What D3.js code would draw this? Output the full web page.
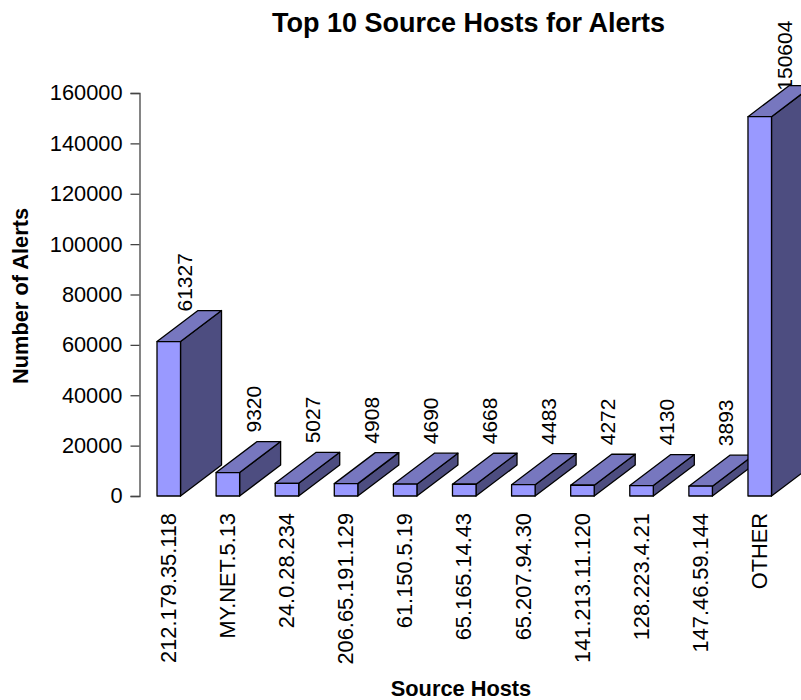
<!DOCTYPE html>
<html>
<head>
<meta charset="utf-8">
<script src="https://cdn.jsdelivr.net/npm/d3@7/dist/d3.min.js"></script>
<style>
  html, body { margin: 0; padding: 0; background: #fff; overflow: hidden; }
  text { font-family: "Liberation Sans", Arial, sans-serif; fill: #000; }
</style>
</head>
<body>
<div id="chart"></div>
<script>
var hosts = ["212.179.35.118", "MY.NET.5.13", "24.0.28.234", "206.65.191.129", "61.150.5.19",
  "65.165.14.43", "65.207.94.30", "141.213.11.120", "128.223.4.21", "147.46.59.144", "OTHER"];
var alerts = [61327, 9320, 5027, 4908, 4690, 4668, 4483, 4272, 4130, 3893, 150604];
var yTicks = [0, 20000, 40000, 60000, 80000, 100000, 120000, 140000, 160000];

var svgWidth = 801;
var svgHeight = 700;

// depth of the fake 3d bars
var depthX = 41;
var depthY = 31;

var svg = d3.select("#chart")
  .append("svg")
  .attr("width", svgWidth)
  .attr("height", svgHeight)
  .style("display", "block");

var xScale = d3.scaleBand()
  .domain(hosts)
  .range([157, 771.5])
  .paddingInner(0.602);

var yScale = d3.scaleLinear()
  .domain([0, 160000])
  .range([496, 93]);

var leftAxis = d3.axisLeft(yScale).tickValues(yTicks).tickFormat(d3.format("d")).tickSize(9).tickPadding(8);

var yAxis = svg.append("g")
  .attr("transform", "translate(139.5, 0)")
  .call(leftAxis);
yAxis.select(".domain").attr("stroke", "#444").attr("stroke-width", 1.3);
yAxis.selectAll("line").attr("stroke", "#444").attr("stroke-width", 1.3);
yAxis.selectAll("text").style("font-size", "21.8px");

// value labels go in first, the OTHER bar covers the bottom of its label
svg.selectAll(".value")
  .data(hosts.map((h, i) => ({host: h, value: alerts[i]})))
  .enter()
  .append("text")
  .attr("class", "value")
  .attr("transform", d => {
    var x = xScale(d.host) + (d.host == "212.179.35.118" ? 27 : 37) + 7.5;
    var gap = d.host == "OTHER" ? 26 : (d.value > 10000 ? 30 : 40);
    return `translate(${x}, ${yScale(d.value) - gap}) rotate(-90)`;
  })
  .style("font-size", "21px")
  .text(d => d.value);

// draw left to right so OTHER covers the neighbour's depth
var bars = svg.selectAll(".bar")
  .data(hosts.map((h, i) => ({host: h, value: alerts[i]})))
  .enter()
  .append("g")
  .attr("class", "bar")
  .attr("stroke", "#000")
  .attr("stroke-width", 1.3)
  .attr("stroke-linejoin", "round");

bars.append("path")
  .attr("fill", "#4d4d80")
  .attr("d", d => {
    var x = xScale(d.host) + xScale.bandwidth();
    var y = yScale(d.value);
    return `M${x},${y}L${x + depthX},${y - depthY}L${x + depthX},${yScale(0) - depthY}L${x},${yScale(0)}Z`;
  });

bars.append("path")
  .attr("fill", "#7777bf")
  .attr("d", d => {
    var x = xScale(d.host);
    var w = xScale.bandwidth();
    var y = yScale(d.value);
    return `M${x},${y}L${x + depthX},${y - depthY}L${x + w + depthX},${y - depthY}L${x + w},${y}Z`;
  });

bars.append("rect")
  .attr("fill", "#9999ff")
  .attr("x", d => xScale(d.host))
  .attr("y", d => yScale(d.value))
  .attr("width", xScale.bandwidth())
  .attr("height", d => yScale(0) - yScale(d.value));

svg.selectAll(".host")
  .data(hosts)
  .enter()
  .append("text")
  .attr("class", "host")
  .attr("text-anchor", "end")
  .attr("transform", d => `translate(${xScale(d) + 19}, 513) rotate(-90)`)
  .style("font-size", "21.8px")
  .text(d => d);

svg.append("text")
  .attr("x", 468.5)
  .attr("y", 32)
  .attr("text-anchor", "middle")
  .style("font-size", "27px")
  .style("font-weight", "bold")
  .text("Top 10 Source Hosts for Alerts");

svg.append("text")
  .attr("x", 461)
  .attr("y", 696)
  .attr("text-anchor", "middle")
  .style("font-size", "21.8px")
  .style("font-weight", "bold")
  .text("Source Hosts");

svg.append("text")
  .attr("transform", "translate(28, 296) rotate(-90)")
  .attr("text-anchor", "middle")
  .style("font-size", "21.8px")
  .style("font-weight", "bold")
  .text("Number of Alerts");
</script>
</body>
</html>
